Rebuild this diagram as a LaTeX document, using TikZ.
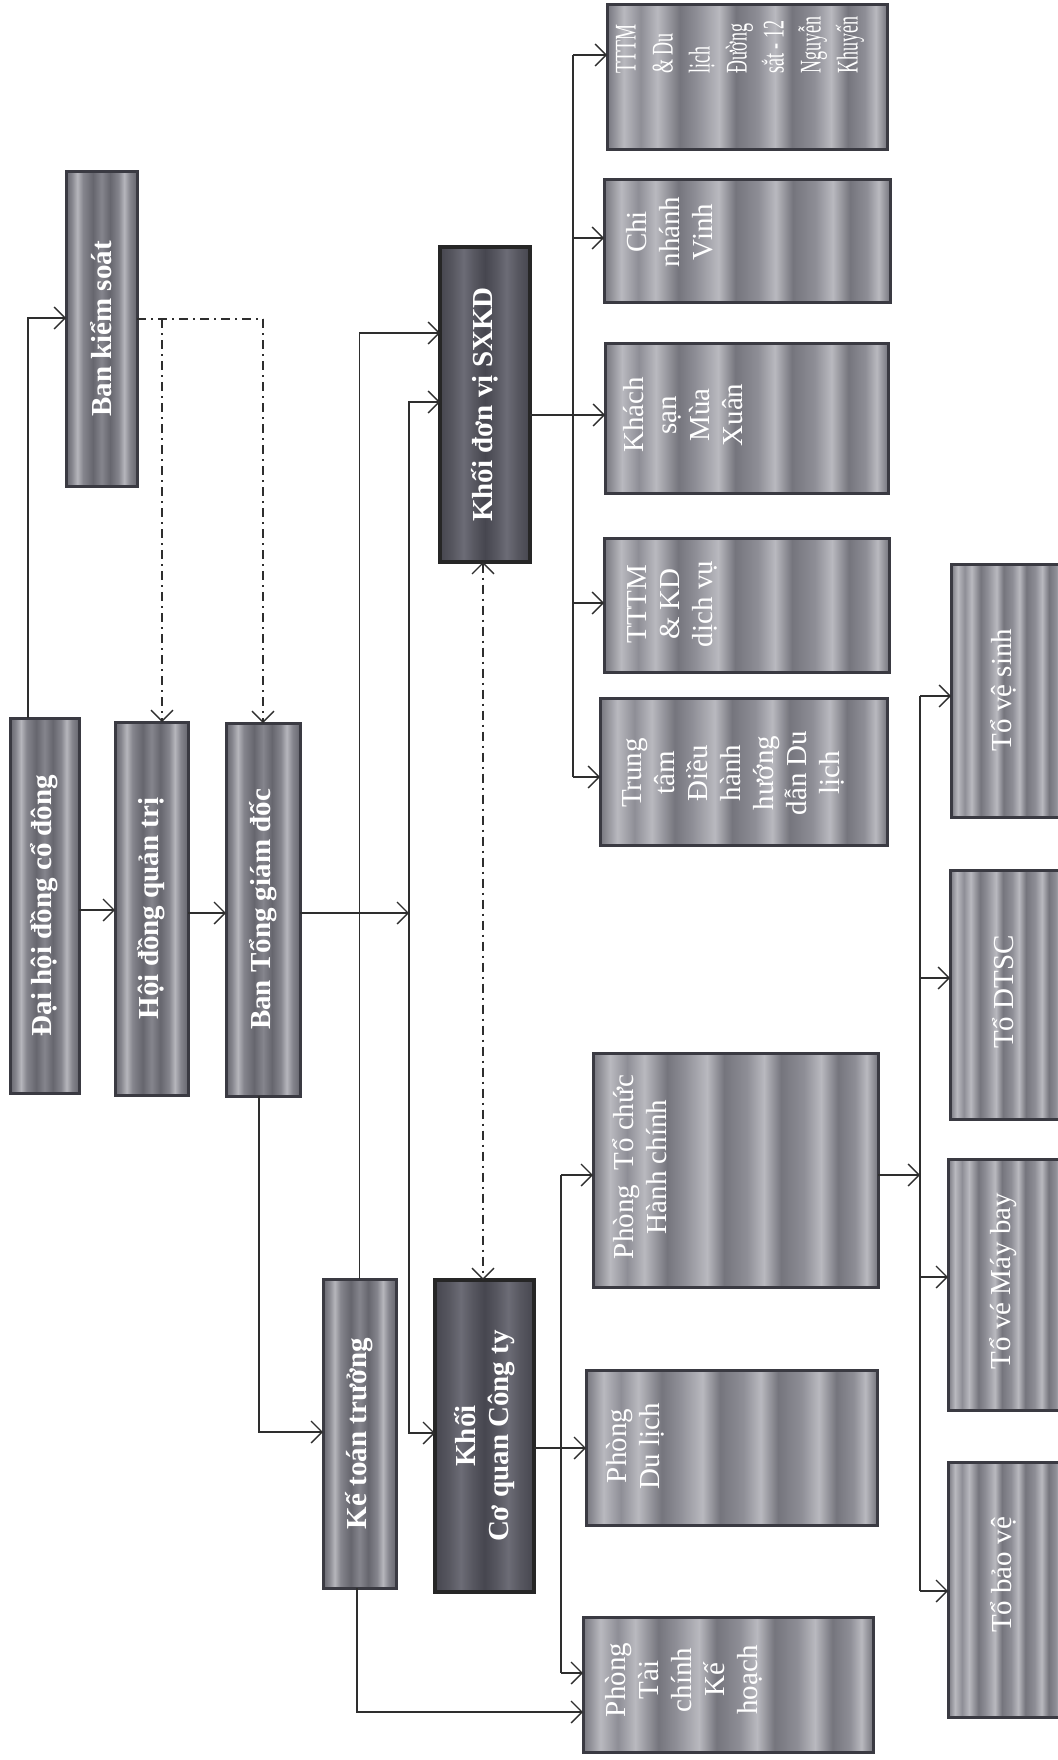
\documentclass[tikz,border=0pt]{standalone}
\usepackage{fontspec}
\setmainfont{Liberation Serif}
\newfontfamily\condserif[FakeStretch=0.6]{Liberation Serif}
\usetikzlibrary{arrows.meta,calc}
\definecolor{bdr}{HTML}{3A3A42}
\definecolor{lc}{HTML}{2E2E2E}
\definecolor{mA}{HTML}{66666E}
\definecolor{mB}{HTML}{85858D}
\definecolor{mC}{HTML}{B6B6BC}
\definecolor{dA}{HTML}{46464F}
\definecolor{dB}{HTML}{575760}
\definecolor{dC}{HTML}{6C6C76}
\definecolor{sA}{HTML}{75757D}
\definecolor{sB}{HTML}{8E8E96}
\definecolor{sC}{HTML}{B9B9BF}
\pgfdeclarehorizontalshading{mainsh}{100bp}{color(0bp)=(mA); color(25bp)=(mA); color(29bp)=(mB); color(33bp)=(mC); color(37bp)=(mB); color(44bp)=(mA); color(50bp)=(mB); color(56bp)=(mA); color(62bp)=(mB); color(66bp)=(mC); color(70bp)=(mB); color(75bp)=(mA); color(100bp)=(mA)}
\pgfdeclarehorizontalshading{darksh}{100bp}{color(0bp)=(dA); color(25bp)=(dA); color(32bp)=(dB); color(38bp)=(dC); color(44bp)=(dB); color(50bp)=(dA); color(56bp)=(dB); color(62bp)=(dC); color(68bp)=(dB); color(75bp)=(dA); color(100bp)=(dA)}
\pgfdeclarehorizontalshading{subsh}{100bp}{color(0bp)=(sA); color(25bp)=(sA); color(28bp)=(sC); color(31bp)=(sB); color(34bp)=(sC); color(38bp)=(sA); color(41bp)=(sB); color(45bp)=(sC); color(48bp)=(sA); color(52bp)=(sB); color(55bp)=(sC); color(58bp)=(sA); color(62bp)=(sB); color(65bp)=(sC); color(68bp)=(sA); color(71bp)=(sB); color(73bp)=(sC); color(75bp)=(sA); color(100bp)=(sA)}
\tikzset{
  mbox/.style={draw=bdr, line width=3pt, shading=mainsh, inner sep=0pt, outer sep=0pt},
  dbox/.style={draw=black!85, line width=3.5pt, shading=darksh, inner sep=0pt, outer sep=0pt},
  sbox/.style={draw=bdr, line width=3pt, shading=subsh, inner sep=0pt, outer sep=0pt},
  txtb/.style={text=white, rotate=90, font=\fontsize{29}{33}\selectfont\bfseries, align=center, inner sep=0pt},
  txtr/.style={text=white, rotate=90, font=\fontsize{29}{33}\selectfont, align=center, inner sep=0pt},
  conn/.style={draw=lc, line width=1.3pt},
  arr/.style={conn, -{Straight Barb[length=11pt,width=22pt,line width=1.3pt]}},
  arrboth/.style={conn, {Straight Barb[length=11pt,width=22pt,line width=1.3pt]}-{Straight Barb[length=11pt,width=22pt,line width=1.3pt]}},
  dd/.style={dash pattern=on 9pt off 5pt on 2pt off 5pt, line width=1.7pt}
}
\begin{document}
\begin{tikzpicture}[x=1pt,y=-1pt]
\fill[white] (0,0) rectangle (1057,1760);
\useasboundingbox (0,0) rectangle (1057,1760);

% main boxes
\node[mbox, minimum width=71pt, minimum height=314pt] (bks) at (101.5,329) {};
\node[mbox, minimum width=69pt, minimum height=375pt] (dh) at (44.5,905.5) {};
\node[mbox, minimum width=73pt, minimum height=373pt] (hd) at (151.5,908.5) {};
\node[mbox, minimum width=74pt, minimum height=373pt] (btgd) at (263,909.5) {};
\node[dbox, minimum width=90pt, minimum height=315pt] (sxkd) at (485,404.5) {};
\node[mbox, minimum width=73pt, minimum height=309pt] (ktt) at (359.5,1433.5) {};
\node[dbox, minimum width=99pt, minimum height=312pt] (kcq) at (484.5,1436) {};

\node[txtb] (bks-t) at (bks.center) {Ban kiểm soát};
\node[txtb] (dh-t) at (dh.center) {Đại hội đồng cổ đông};
\node[txtb] (hd-t) at (hd.center) {Hội đồng quản trị};
\node[txtb] (btgd-t) at (btgd.center) {Ban Tổng giám đốc};
\node[txtb] (sxkd-t) at (sxkd.center) {Khối đơn vị SXKD};
\node[txtb] (ktt-t) at (ktt.center) {Kế toán trưởng};
\node[txtb] (kcq-t) at (kcq.center) {Khối\\Cơ quan Công ty};

% SXKD units
\node[sbox, minimum width=280pt, minimum height=145pt] (t1) at (747,77.5) {};
\node[sbox, minimum width=286pt, minimum height=123pt] (t2) at (747,241.5) {};
\node[sbox, minimum width=283pt, minimum height=150pt] (t3) at (746.5,418) {};
\node[sbox, minimum width=285pt, minimum height=134pt] (t4) at (746.5,605) {};
\node[sbox, minimum width=287pt, minimum height=147pt] (t5) at (743.5,771.5) {};
\node[text=white, rotate=90, inner sep=0pt, align=left, anchor=west, font=\fontsize{30}{37}\condserif] (t1-t) at (740,74) {TTTM\\\& Du\\lịch\\Đường\\sắt - 12\\Nguyễn\\Khuyến};
\node[txtr] (t2-t) at (670,232) {Chi\\nhánh\\Vinh};
\node[txtr] (t3-t) at (683,415) {Khách\\sạn\\Mùa\\Xuân};
\node[txtr] (t4-t) at (672,604) {TTTM\\\& KD\\dịch vụ};
\node[txtr] (t5-t) at (733,773) {Trung\\tâm\\Điều\\hành\\hướng\\dẫn Du\\lịch};

% company departments
\node[sbox, minimum width=285pt, minimum height=234pt] (p1) at (735.5,1170) {};
\node[sbox, minimum width=291pt, minimum height=155pt] (p2) at (731.5,1447.5) {};
\node[sbox, minimum width=290pt, minimum height=135pt] (p3) at (728,1684.5) {};
\node[txtr] (p1-t) at (640,1167) {Phòng~~Tổ chức\\Hành chính};
\node[txtr] (p2-t) at (635,1446) {Phòng\\Du lịch};
\node[txtr] (p3-t) at (684,1680) {Phòng\\Tài\\chính\\Kế\\hoạch};

% teams
\node[sbox, minimum width=114pt, minimum height=253pt] (g1) at (1008,690.5) {};
\node[sbox, minimum width=115pt, minimum height=249pt] (g2) at (1007.5,994.5) {};
\node[sbox, minimum width=117pt, minimum height=251pt] (g3) at (1006.5,1284.5) {};
\node[sbox, minimum width=117pt, minimum height=255pt] (g4) at (1006.5,1589.5) {};
\node[txtr] (g1-t) at (1003,690) {Tổ vệ sinh};
\node[txtr] (g2-t) at (1003,992) {Tổ DTSC};
\node[txtr] (g3-t) at (1003,1281) {Tổ vé Máy bay};
\node[txtr] (g4-t) at (1003,1575) {Tổ bảo vệ};

% ---- connectors ----
\coordinate (bksIn) at ([yshift=11pt]bks.west);
\draw[arr] ([xshift=-16.5pt]dh.north) |- (bksIn);
\coordinate (c1) at ([yshift=-4.5pt]dh.east);
\draw[arr] (c1) -- (c1 -| hd.west);
\coordinate (c2) at ([yshift=-4.5pt]hd.east);
\draw[arr] (c2) -- (c2 -| btgd.west);
\coordinate (k0) at ([yshift=10pt]bks.east);
\coordinate (kA) at (162,319);
\coordinate (kB) at (263,319);
\draw[conn, dd] (k0) -- (kB);
\draw[arr, dd] (kA) -- (kA |- hd.north);
\draw[arr, dd] (kB) -- (kB |- btgd.north);
\coordinate (c3) at ([yshift=-3.5pt]btgd.east);
\coordinate (vB) at (409,913);
\draw[arr] (c3) -- (vB);
\coordinate (sB) at ([yshift=2.5pt]sxkd.west);
\coordinate (kB2) at ([yshift=3pt]kcq.west);
\draw[arr] (vB) |- (sB);
\draw[arr] (vB) |- (kB2);
\coordinate (sA) at ([yshift=71.5pt]sxkd.west);
\draw[arr] (ktt.north) |- (sA);
\coordinate (kt1) at ([yshift=1.5pt]ktt.west);
\draw[arr] ([xshift=-4pt]btgd.south) |- (kt1);
\coordinate (p3b) at ([yshift=-27.5pt]p3.west);
\draw[arr] ([xshift=-2.5pt]ktt.south) |- (p3b);
\coordinate (dz) at ([xshift=-2pt]sxkd.south);
\draw[arrboth, dd] (dz) -- (dz |- kcq.north);
\coordinate (q0) at ([yshift=-12pt]kcq.east);
\draw[arr] (q0) -- (q0 -| p2.west);
\coordinate (qt) at (561,1175);
\coordinate (qb) at (561,1673);
\draw[conn] (qt) -- (qb);
\draw[arr] (qt) -- (qt -| p1.west);
\draw[arr] (qb) -- (qb -| p3.west);
\coordinate (s0) at ([yshift=-10.5pt]sxkd.east);
\coordinate (u1) at (573,55);
\coordinate (u2) at (573,238);
\coordinate (u3) at (573,415);
\coordinate (u4) at (573,603);
\coordinate (u5) at (573,777);
\draw[conn] (u1) -- (u5);
\draw[conn] (s0) -- (u3);
\draw[arr] (u1) -- (u1 -| t1.west);
\draw[arr] (u2) -- (u2 -| t2.west);
\draw[arr] (u3) -- (u3 -| t3.west);
\draw[arr] (u4) -- (u4 -| t4.west);
\draw[arr] (u5) -- (u5 -| t5.west);
\coordinate (r0) at ([yshift=-5pt]p1.east);
\coordinate (w1) at (920,696);
\coordinate (w2) at (920,978);
\coordinate (w3) at (920,1277);
\coordinate (w4) at (920,1591);
\draw[conn] (w1) -- (w4);
\draw[arr] (r0) -- (r0 -| w1);
\draw[arr] (w1) -- (w1 -| g1.west);
\draw[arr] (w2) -- (w2 -| g2.west);
\draw[arr] (w3) -- (w3 -| g3.west);
\draw[arr] (w4) -- (w4 -| g4.west);
\end{tikzpicture}
\end{document}
